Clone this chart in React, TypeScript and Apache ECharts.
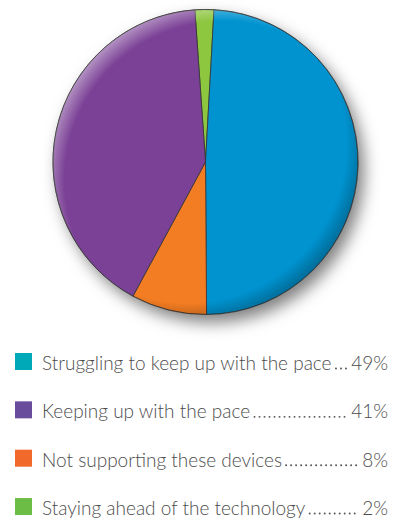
import React, { useEffect, useRef } from "react";
import * as echarts from "echarts";

// ---- data ----
const categories = [
  "Struggling to keep up with the pace",
  "Keeping up with the pace",
  "Not supporting these devices",
  "Staying ahead of the technology",
];
const values = [49, 41, 8, 2];
const pieColors = ["#0093d0", "#7b4196", "#f37d22", "#8dc63f"];
const legendColors = ["#00a9b8", "#6a4c9c", "#f26a2b", "#6cbd45"];
// clockwise order of slices starting at 12 o'clock
const pieOrder = [3, 0, 2, 1];

const W = 401;
const H = 518;
const FONT_FAMILY = "Lato, 'Open Sans', sans-serif";
const FONT_SIZE = 19;
const FONT = `300 ${FONT_SIZE}px ${FONT_FAMILY}`;

function measure(text: string): number {
  const c = document.createElement("canvas");
  const ctx = c.getContext("2d")!;
  ctx.font = FONT;
  return ctx.measureText(text).width;
}

export default function App() {
  const ref = useRef<HTMLDivElement>(null);

  useEffect(() => {
    if (!ref.current) return;
    const chart = echarts.init(ref.current, undefined, { renderer: "svg", width: W, height: H });
    let disposed = false;

    const build = () => {
      if (disposed) return;
      const center = [205.5, 162];
      const radius = 152.5;

      const pieData = pieOrder.map((i) => ({
        name: categories[i],
        value: values[i],
        itemStyle: { color: pieColors[i] },
      }));

      const graphics: any[] = [];
      const squareX = 15;
      const squareSize = 17;
      const textX = 42;
      const rightX = 388;
      const rowY0 = 361.5;
      const rowStep = 48.35;
      categories.forEach((name, i) => {
        const cy = rowY0 + i * rowStep;
        const pct = `${values[i]}%`;
        graphics.push({
          type: "rect",
          shape: { x: squareX, y: cy - squareSize / 2, width: squareSize, height: squareSize },
          style: { fill: legendColors[i] },
          silent: true,
        });
        graphics.push({
          type: "text",
          x: textX,
          y: cy + 1,
          style: {
            text: name,
            font: FONT,
            fill: "#4d4d4d",
            textAlign: "left",
            textVerticalAlign: "middle",
          },
          silent: true,
        });
        graphics.push({
          type: "text",
          x: rightX,
          y: cy + 1,
          style: {
            text: pct,
            font: FONT,
            fill: "#4d4d4d",
            textAlign: "right",
            textVerticalAlign: "middle",
          },
          silent: true,
        });
        const labelEnd = textX + measure(name) + 4;
        const pctStart = rightX - measure(pct) - 3;
        graphics.push({
          type: "line",
          shape: { x1: labelEnd, y1: cy + 7, x2: pctStart, y2: cy + 7 },
          style: {
            stroke: "#5a5a5a",
            lineWidth: 1.9,
            lineDash: [0.1, 4.9],
            lineCap: "round",
          },
          silent: true,
        });
      });

      chart.setOption({
        animation: false,
        backgroundColor: "#ffffff",
        series: [
          {
            type: "pie",
            z: 1,
            silent: true,
            center,
            radius,
            label: { show: false },
            labelLine: { show: false },
            data: [
              {
                value: 1,
                itemStyle: {
                  color: "#ffffff",
                  shadowBlur: 16,
                  shadowColor: "rgba(0,0,0,0.5)",
                  shadowOffsetX: 6,
                  shadowOffsetY: 8,
                },
              },
            ],
          },
          {
            type: "pie",
            z: 2,
            center,
            radius,
            startAngle: 94,
            clockwise: true,
            label: { show: false },
            labelLine: { show: false },
            itemStyle: { borderColor: "#333333", borderWidth: 0.8 },
            emphasis: { disabled: true },
            data: pieData,
          },
          {
            type: "pie",
            z: 3,
            silent: true,
            center,
            radius,
            label: { show: false },
            labelLine: { show: false },
            data: [
              {
                value: 1,
                itemStyle: {
                  color: {
                    type: "radial",
                    x: 0.56,
                    y: 0.56,
                    r: 0.58,
                    colorStops: [
                      { offset: 0, color: "rgba(255,255,255,0)" },
                      { offset: 0.9, color: "rgba(255,255,255,0)" },
                      { offset: 1, color: "rgba(255,255,255,0.4)" },
                    ],
                  },
                },
              },
            ],
          },
          {
            type: "pie",
            z: 4,
            silent: true,
            center,
            radius,
            label: { show: false },
            labelLine: { show: false },
            data: [
              {
                value: 1,
                itemStyle: {
                  color: {
                    type: "radial",
                    x: 0.44,
                    y: 0.44,
                    r: 0.58,
                    colorStops: [
                      { offset: 0, color: "rgba(0,0,0,0)" },
                      { offset: 0.9, color: "rgba(0,0,0,0)" },
                      { offset: 1, color: "rgba(0,0,0,0.25)" },
                    ],
                  },
                  borderColor: "#333333",
                  borderWidth: 0.6,
                },
              },
            ],
          },
        ],
        graphic: graphics,
      });
    };

    const fontsReady = (document as any).fonts
      ? (document as any).fonts.load(FONT).then(() => (document as any).fonts.ready)
      : Promise.resolve();
    fontsReady.then(build, build);

    return () => {
      disposed = true;
      chart.dispose();
    };
  }, []);

  return (
    <div
      ref={ref}
      style={{ position: "fixed", left: 0, top: 0, width: W, height: H, background: "#fff" }}
    />
  );
}
